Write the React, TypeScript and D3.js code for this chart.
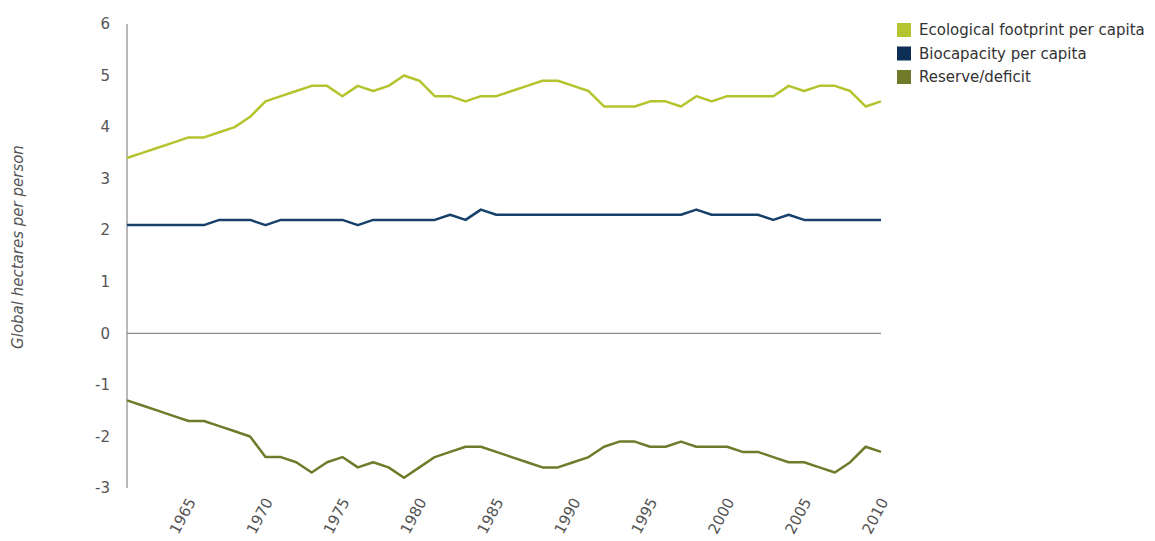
import React, { useEffect, useRef } from 'react';
import * as d3 from 'd3';

const years = d3.range(1961, 2011);

const footprint = [
  3.4, 3.5, 3.6, 3.7, 3.8, 3.8, 3.9, 4.0, 4.2, 4.5,
  4.6, 4.7, 4.8, 4.8, 4.6, 4.8, 4.7, 4.8, 5.0, 4.9,
  4.6, 4.6, 4.5, 4.6, 4.6, 4.7, 4.8, 4.9, 4.9, 4.8,
  4.7, 4.4, 4.4, 4.4, 4.5, 4.5, 4.4, 4.6, 4.5, 4.6,
  4.6, 4.6, 4.6, 4.8, 4.7, 4.8, 4.8, 4.7, 4.4, 4.5,
];

const biocapacity = [
  2.1, 2.1, 2.1, 2.1, 2.1, 2.1, 2.2, 2.2, 2.2, 2.1,
  2.2, 2.2, 2.2, 2.2, 2.2, 2.1, 2.2, 2.2, 2.2, 2.2,
  2.2, 2.3, 2.2, 2.4, 2.3, 2.3, 2.3, 2.3, 2.3, 2.3,
  2.3, 2.3, 2.3, 2.3, 2.3, 2.3, 2.3, 2.4, 2.3, 2.3,
  2.3, 2.3, 2.2, 2.3, 2.2, 2.2, 2.2, 2.2, 2.2, 2.2,
];

const reserve = [
  -1.3, -1.4, -1.5, -1.6, -1.7, -1.7, -1.8, -1.9, -2.0, -2.4,
  -2.4, -2.5, -2.7, -2.5, -2.4, -2.6, -2.5, -2.6, -2.8, -2.6,
  -2.4, -2.3, -2.2, -2.2, -2.3, -2.4, -2.5, -2.6, -2.6, -2.5,
  -2.4, -2.2, -2.1, -2.1, -2.2, -2.2, -2.1, -2.2, -2.2, -2.2,
  -2.3, -2.3, -2.4, -2.5, -2.5, -2.6, -2.7, -2.5, -2.2, -2.3,
];

const xTicks = [1965, 1970, 1975, 1980, 1985, 1990, 1995, 2000, 2005, 2010];
const yTicks = [-3, -2, -1, 0, 1, 2, 3, 4, 5, 6];

const series = [
  { name: 'Ecological footprint per capita', values: footprint, color: '#b4c42e', swatch: '#b4c42e' },
  { name: 'Biocapacity per capita', values: biocapacity, color: '#17416b', swatch: '#0e2f55' },
  { name: 'Reserve/deficit', values: reserve, color: '#6f7a2a', swatch: '#6f7a2a' },
];

export default function App() {
  const ref = useRef<SVGSVGElement>(null);

  useEffect(() => {
    document.body.style.margin = '0';
    const svg = d3.select(ref.current);
    svg.selectAll('*').remove();

    const font = '"DejaVu Sans", Verdana, sans-serif';
    const x = d3.scaleLinear().domain([1961, 2010]).range([127, 881]);
    const y = d3.scaleLinear().domain([-3, 6]).range([488, 24]);

    // y axis line
    svg.append('line')
      .attr('x1', 127).attr('x2', 127)
      .attr('y1', y(6)).attr('y2', y(-3))
      .attr('stroke', '#8a8a8a').attr('stroke-width', 1.2);

    // zero line
    svg.append('line')
      .attr('x1', 127).attr('x2', 881)
      .attr('y1', y(0)).attr('y2', y(0))
      .attr('stroke', '#8a8a8a').attr('stroke-width', 1.2);

    svg.append('g')
      .selectAll('text')
      .data(yTicks)
      .join('text')
      .attr('x', 110)
      .attr('y', (d) => y(d))
      .attr('dy', '0.35em')
      .attr('text-anchor', 'end')
      .attr('font-family', font)
      .attr('font-size', 15)
      .attr('fill', '#555')
      .text((d) => d);

    svg.append('g')
      .selectAll('text')
      .data(xTicks)
      .join('text')
      .attr('transform', (d) => `translate(${x(d) + 3},${499}) rotate(-62)`)
      .attr('text-anchor', 'end')
      .attr('dy', '0.35em')
      .attr('font-family', font)
      .attr('font-size', 15)
      .attr('fill', '#555')
      .text((d) => d);

    svg.append('text')
      .attr('transform', `translate(23,${247}) rotate(-90)`)
      .attr('text-anchor', 'middle')
      .attr('font-family', font)
      .attr('font-size', 15)
      .attr('font-style', 'italic')
      .attr('fill', '#555')
      .text('Global hectares per person');

    const line = d3.line<number>()
      .x((d, i) => x(years[i]))
      .y((d) => y(d));

    svg.append('g')
      .selectAll('path')
      .data(series)
      .join('path')
      .attr('d', (s) => line(s.values))
      .attr('fill', 'none')
      .attr('stroke', (s) => s.color)
      .attr('stroke-width', 2.5)
      .attr('stroke-linejoin', 'round');

    const legend = svg.append('g')
      .selectAll('g')
      .data(series)
      .join('g')
      .attr('transform', (d, i) => `translate(897,${23 + i * 23.5})`);

    legend.append('rect')
      .attr('width', 14).attr('height', 14)
      .attr('fill', (s) => s.swatch);

    legend.append('text')
      .attr('x', 22)
      .attr('y', 7)
      .attr('dy', '0.35em')
      .attr('font-family', font)
      .attr('font-size', 15)
      .attr('fill', '#333')
      .text((s) => s.name);
  }, []);

  return <svg ref={ref} width={1155} height={541} style={{ display: 'block' }} />;
}
